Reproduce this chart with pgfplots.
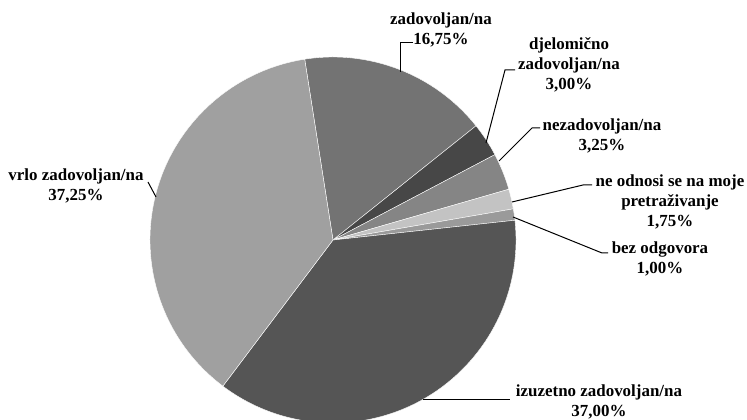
\documentclass[border=0pt]{standalone}
\usepackage{pgfplots}
\pgfplotsset{compat=1.18}
\usepackage{fontspec}
\setmainfont{Liberation Serif}

\definecolor{czad}{HTML}{737373}
\definecolor{cdje}{HTML}{474747}
\definecolor{cnez}{HTML}{858585}
\definecolor{cneo}{HTML}{C3C3C3}
\definecolor{cbez}{HTML}{9A9A9A}
\definecolor{cizu}{HTML}{555555}
\definecolor{cvrl}{HTML}{A0A0A0}

\tikzset{lbl/.style={font=\fontsize{12.7}{15}\selectfont\bfseries, align=center, inner sep=0pt}}

\begin{document}
\begin{tikzpicture}
\begin{axis}[
    hide axis,
    scale only axis,
    width=560.25pt,
    height=315pt,
    xmin=0, xmax=747,
    ymin=0, ymax=420,
    clip=true
]
% slices clockwise, starting angle 98.9 deg; value in percent
\xdef\pieangle{98.9}
\foreach \v/\c in {16.75/czad, 3.00/cdje, 3.25/cnez, 1.75/cneo, 1.00/cbez, 37.00/cizu, 37.25/cvrl} {
    \pgfmathsetmacro\pieend{\pieangle-3.6*\v}
    \edef\cmd{\noexpand\fill[\c, draw=white, line width=0.3pt] (axis cs:333,180) -- ++(\pieangle:137.25pt) arc[start angle=\pieangle, end angle=\pieend, radius=137.25pt] -- cycle;}
    \cmd
    \xdef\pieangle{\pieend}
}

% leader lines
\draw[black, line width=0.75pt] (axis cs:400,348) -- (axis cs:400,377) -- (axis cs:413,377);
\draw[black, line width=0.75pt] (axis cs:486,277) -- (axis cs:505,350) -- (axis cs:515,350);
\draw[black, line width=0.75pt] (axis cs:499,259) -- (axis cs:532,292) -- (axis cs:540,292);
\draw[black, line width=0.75pt] (axis cs:512,218) -- (axis cs:583,235) -- (axis cs:592,235);
\draw[black, line width=0.75pt] (axis cs:513,203) -- (axis cs:602,167) -- (axis cs:608,167);
\draw[black, line width=0.75pt] (axis cs:423,20) -- (axis cs:510,20);
\draw[black, line width=0.75pt] (axis cs:156,223) -- (axis cs:148,238);

% labels
\node[lbl] at (axis cs:441,390) {zadovoljan/na\\16,75\%};
\node[lbl] at (axis cs:569,355) {djelomično\\zadovoljan/na\\3,00\%};
\node[lbl] at (axis cs:602,284) {nezadovoljan/na\\3,25\%};
\node[lbl] at (axis cs:670,218) {ne odnosi se na moje\\pretraživanje\\1,75\%};
\node[lbl] at (axis cs:660,161) {bez odgovora\\1,00\%};
\node[lbl] at (axis cs:599,18) {izuzetno zadovoljan/na\\37,00\%};
\node[lbl] at (axis cs:76,234) {vrlo zadovoljan/na\\37,25\%};
\end{axis}
\pgfresetboundingbox
\path (current axis.south west) rectangle (current axis.north east);
\end{tikzpicture}
\end{document}
